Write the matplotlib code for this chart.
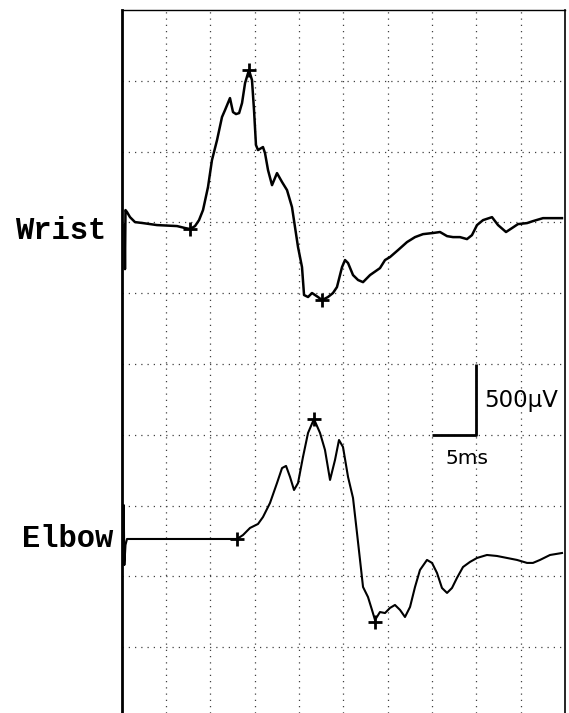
import matplotlib.pyplot as plt

# time (ms) and amplitude (uV, relative to each trace's baseline)
wrist_t = [0.34, 0.39, 0.45, 0.62, 0.96, 1.52, 2.42, 4.00, 6.26, 7.17, 7.73, 8.29, 8.74, 9.19,
           9.75, 10.20, 10.77, 11.33, 11.67, 12.23, 12.57, 12.91, 13.26, 13.59, 13.93, 14.37,
           14.71, 14.94, 15.16, 15.39, 15.95, 16.18, 16.52, 16.97, 17.53, 18.10, 18.66, 19.22,
           19.56, 19.90, 20.35, 20.58, 21.03, 21.48, 21.82, 22.15, 22.61, 23.28, 23.84, 24.29,
           24.86, 25.20, 25.54, 26.10, 26.67, 27.23, 28.02, 29.14, 29.71, 30.27, 31.17, 32.19,
           33.09, 33.99, 35.12, 35.91, 36.70, 37.37, 38.16, 38.95, 39.51, 40.08, 40.76, 41.77,
           42.45, 43.35, 44.03, 44.70, 45.72, 46.39, 47.52, 48.65, 49.66]
wrist_uv = [0, -311, 106, 92, 56, 21, 14, 0, -7, -21, -28, -7, 35, 106,
            268, 459, 600, 763, 812, 897, 798, 784, 791, 862, 1003, 1095,
            1024, 812, 565, 530, 551, 508, 388, 282, 367, 304, 247, 127,
            -14, -155, -297, -494, -508, -480, -494, -508, -530, -508, -480, -438,
            -297, -247, -268, -353, -388, -403, -353, -304, -247, -226, -177, -120,
            -85, -64, -56, -49, -78, -85, -85, -99, -71, 0, 35, 56,
            0, -49, -21, 7, 14, 28, 49, 49, 49]

elbow_t = [0.20, 0.25, 0.32, 0.45, 0.62, 8.85, 13.02, 13.70, 14.49, 15.39, 15.95, 16.74, 17.53,
           18.10, 18.55, 19.00, 19.45, 19.90, 20.46, 21.03, 21.70, 22.38, 22.94, 23.51, 24.07,
           24.52, 24.97, 25.54, 26.10, 26.55, 26.89, 27.23, 27.79, 28.24, 28.58, 29.14, 29.71,
           30.27, 30.83, 31.40, 31.96, 32.53, 33.09, 33.65, 34.44, 35.01, 35.57, 36.13, 36.70,
           37.26, 37.82, 38.50, 39.29, 40.08, 41.20, 42.33, 43.46, 44.59, 45.72, 46.39, 47.18,
           48.31, 49.66]
elbow_uv = [0, 240, -184, -42, 0, 0, 0, 28, 78, 106, 155, 254, 395,
            501, 516, 438, 346, 395, 579, 749, 847, 749, 629, 417, 558,
            699, 650, 438, 290, 42, -148, -339, -410, -501, -572, -516, -523,
            -487, -466, -501, -551, -480, -339, -219, -148, -169, -240, -346, -381,
            -346, -275, -198, -162, -134, -113, -120, -134, -148, -169, -169, -148,
            -113, -99]

# marked points: onset, peak, trough
wrist_mark_t = [7.73, 14.37, 22.61]
wrist_mark_uv = [-28, 1095, -530]
elbow_mark_t = [13.02, 21.70, 28.58]
elbow_mark_uv = [0, 847, -586]

labels = ["Wrist", "Elbow"]

wrist_base = 3481
elbow_base = 1264

fig = plt.figure(figsize=(5.69, 7.13), dpi=100)
ax = fig.add_axes([121.5 / 569, 0, (565 - 121.5) / 569, 703 / 713])
ax.set_xlim(0, 50)
ax.set_ylim(35, 5000)

for v in range(5, 50, 5):
    ax.axvline(v, color="0.25", lw=0.9, ls=(0, (1, 4)), zorder=1)
for h in range(500, 5000, 500):
    ax.axhline(h, color="0.25", lw=0.9, ls=(0, (1, 4)), zorder=1)

ax.plot(wrist_t, [wrist_base + a for a in wrist_uv], color="black", lw=1.8, zorder=3)
ax.plot(elbow_t, [elbow_base + a for a in elbow_uv], color="black", lw=1.5, zorder=3)
ax.plot(wrist_mark_t, [wrist_base + a for a in wrist_mark_uv], ls="none", marker="+",
        ms=10, mew=2, color="black", zorder=4)
ax.plot(elbow_mark_t, [elbow_base + a for a in elbow_mark_uv], ls="none", marker="+",
        ms=10, mew=2, color="black", zorder=4)

# calibration bar
ax.plot([35, 40, 40], [2000, 2000, 2500], color="black", lw=2, solid_capstyle="butt", zorder=4)
ax.text(40.9, 2240, "500\u00b5V", fontsize=16.5, va="center", ha="left", family="DejaVu Sans")
ax.text(39.0, 1830, "5ms", fontsize=14.5, va="center", ha="center", family="DejaVu Sans")

ax.set_xticks([])
ax.set_yticks([])
ax.spines["bottom"].set_visible(False)
ax.spines["left"].set_linewidth(2)
ax.spines["top"].set_linewidth(1)
ax.spines["right"].set_linewidth(1.2)

fig.text(15 / 569, 1 - 231 / 713, labels[0], fontsize=22, fontweight="bold",
         family="Liberation Mono", va="center", ha="left")
fig.text(22 / 569, 1 - 539 / 713, labels[1], fontsize=22, fontweight="bold",
         family="Liberation Mono", va="center", ha="left")

fig.savefig("out.png", dpi=100)
